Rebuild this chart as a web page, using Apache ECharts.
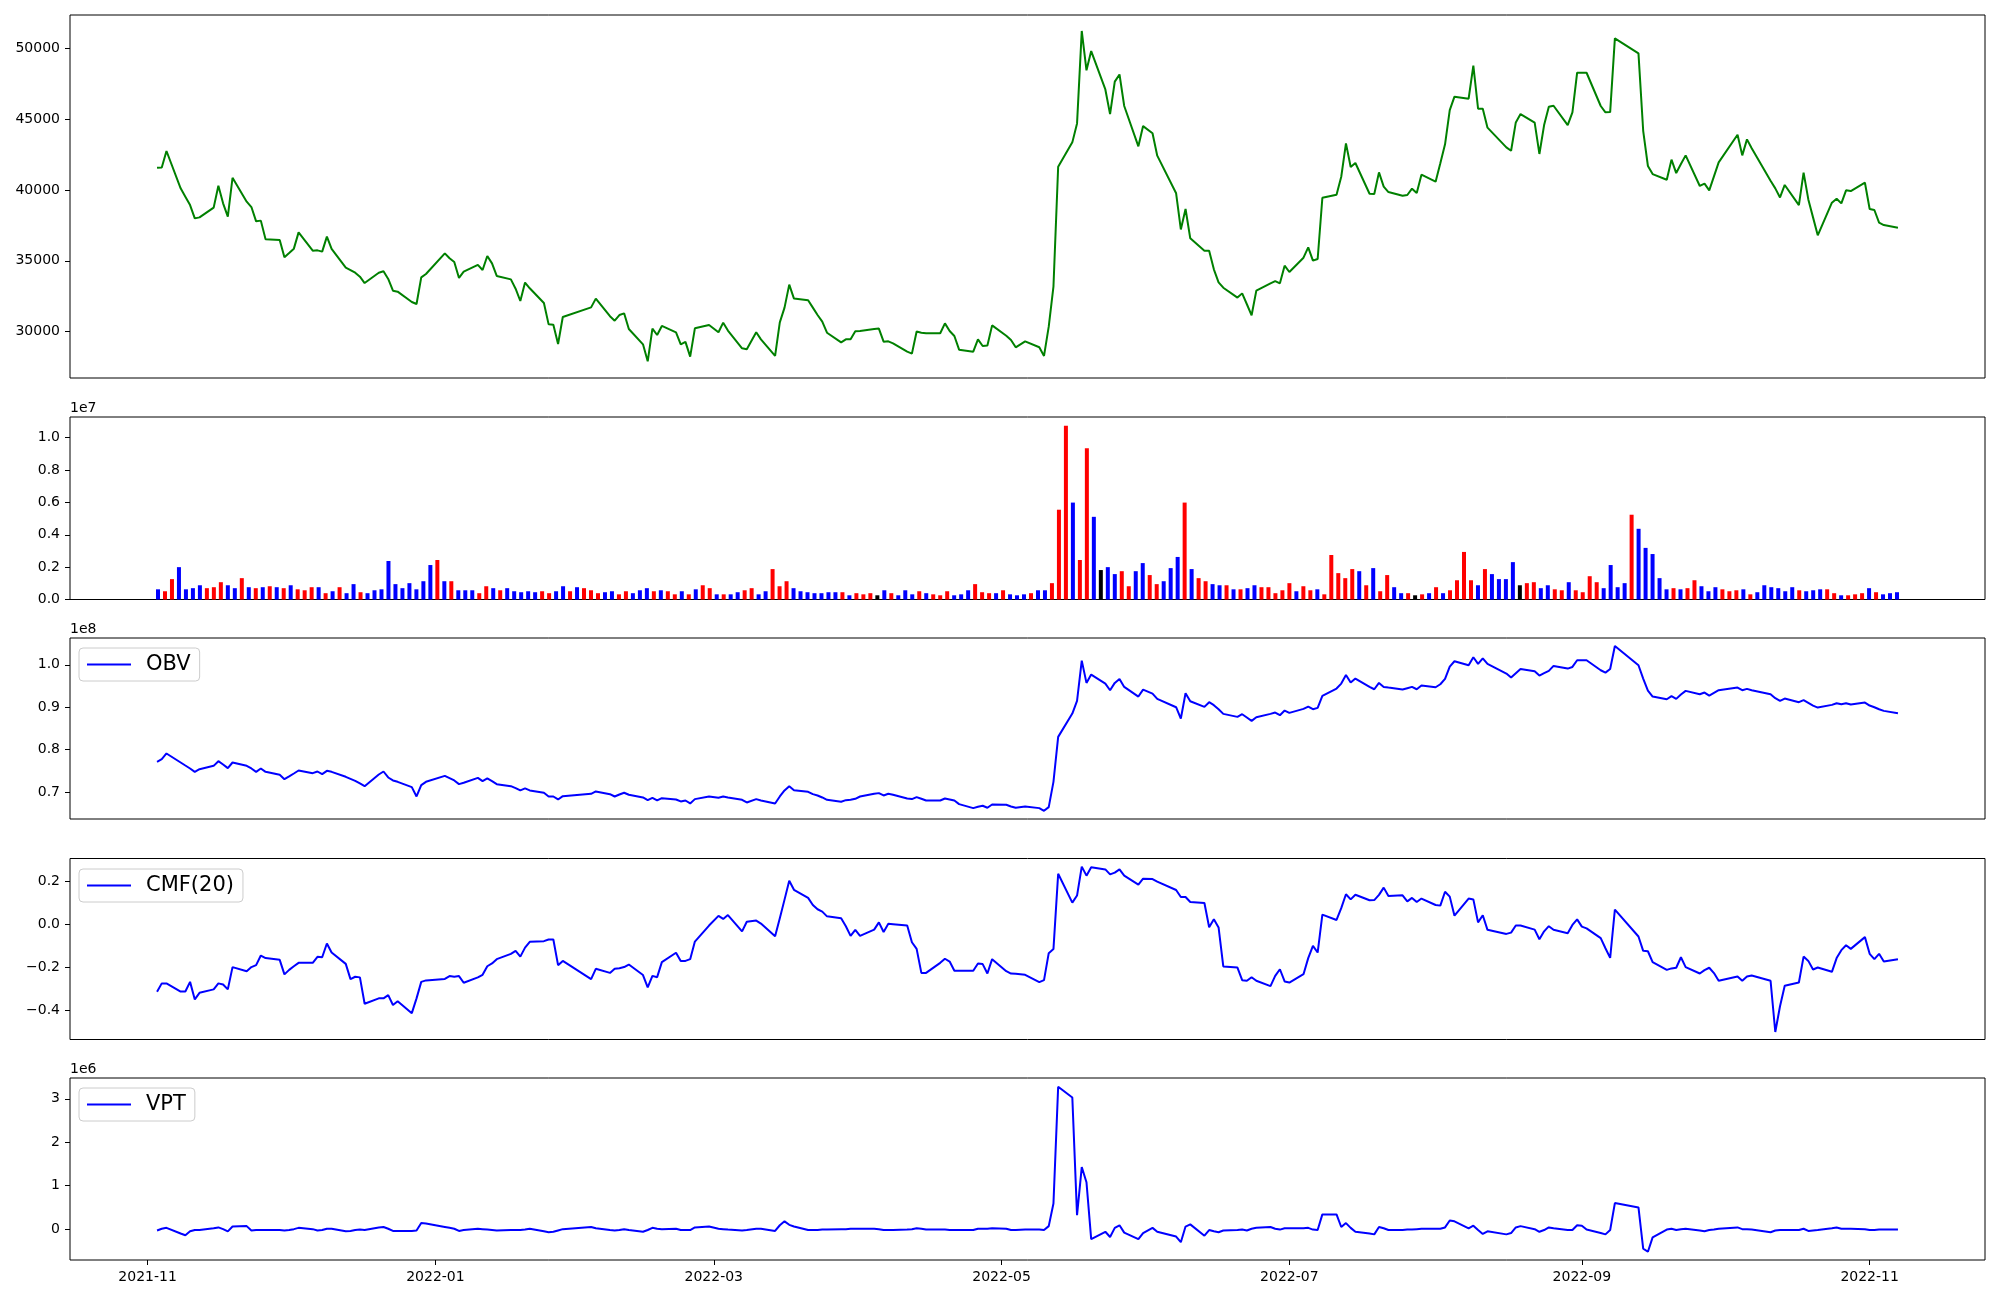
<!DOCTYPE html>
<html>
<head>
<meta charset="utf-8">
<script src="https://cdn.jsdelivr.net/npm/echarts@6/dist/echarts.min.js"></script>
<style>
  html, body { margin: 0; padding: 0; background: #fff; }
  #chart { width: 2000px; height: 1300px; }
</style>
</head>
<body>
<div id="chart"></div>
<script>
// market holidays (weekdays without trading) between the first and last day
const holidays = ['2021-12-31', '2022-01-31', '2022-02-01', '2022-02-02', '2022-03-01', '2022-03-09',
  '2022-05-05', '2022-06-01', '2022-06-06', '2022-08-15', '2022-09-09', '2022-09-12', '2022-10-03', '2022-10-10'];
const tickLabels = ['2021-11', '2022-01', '2022-03', '2022-05', '2022-07', '2022-09', '2022-11'];

// close price
const price = [
  41580, 41600, 42760, 40120, 39530, 38940, 38000, 38070, 38760, 40310, 39060, 38120, 40870, 39180, 38800, 37790, 37840, 36520, 36470, 35250,
  35550, 35860, 37010, 35720, 35740, 35650, 36710, 35840, 34520, 34350, 34160, 33880, 33430, 34160, 34260, 33720, 32890, 32820, 32090, 31950, 33830, 34070,
  35530, 35180, 34920, 33790, 34230, 34710, 34350, 35340, 34820, 33930, 33690, 33030, 32160, 33460, 33060, 32020, 30510, 30490, 29120, 31030,
  31710, 32330, 31090, 30770, 31170, 31290, 30180, 29100, 27900, 30210, 29760, 30400, 29950, 29100, 29270, 28230, 30230, 30470,
  29950, 30630, 30070, 28820, 28750, 29950, 29450, 28280, 30650, 31690, 33320, 32330, 32210, 31690, 31170, 30700, 29920, 29240, 29450, 29450, 30020,
  30040, 30180, 30210, 29290, 29310, 29170, 28580, 28440, 30000, 29920, 29880, 29880, 30580, 30040, 29690, 28720, 28580, 29450, 28980, 29010, 30440,
  29710, 29410, 28890, 29310, 28890, 28280, 30350, 33170, 41650, 43370, 44710, 51240, 48460, 49820, 47110, 45370, 47660, 48170, 45940, 43090, 44520,
  44010, 42430, 39770, 37220, 38660, 36590, 35720, 35720, 34400, 33480, 33100, 32400, 32700, 31930, 31150, 32890, 33410, 33570, 33410, 34660,
  34210, 35220, 35950, 35010, 35130, 39460, 39670, 40940, 43300, 41630, 41910, 39740, 39720, 41250, 40240, 39860, 39600, 39650, 40100, 39790, 41090,
  40590, 41890, 43230, 45650, 46600, 46460, 48790, 45750, 45750, 44410, 43020, 42780, 44780, 45370, 44760, 42550, 44590, 45890, 45960, 44590, 45490, 48290,
  48290, 48290, 45940, 45490, 45510, 50720, 49660, 44190, 41700, 41130, 40730, 42150, 41200, 41840, 42450, 40290, 40450, 39980, 40970, 41960,
  43910, 42450, 43580, 42950, 40660, 40120, 39480, 40360, 38940, 41230, 39340, 38070, 36800, 39110, 39390, 39060, 39980, 39930, 40520,
  38660, 38590, 37700, 37530, 37340
];

// volume, millions
const volume = [
  0.63, 0.51, 1.26, 2.00, 0.63, 0.70, 0.88, 0.70, 0.76, 1.07, 0.88, 0.70, 1.32, 0.76, 0.70, 0.76, 0.82, 0.76, 0.70, 0.88,
  0.63, 0.57, 0.76, 0.76, 0.39, 0.51, 0.76, 0.39, 0.95, 0.45, 0.39, 0.57, 0.63, 2.38, 0.95, 0.70, 1.01, 0.63, 1.13, 2.13, 2.44, 1.13,
  1.13, 0.57, 0.57, 0.57, 0.39, 0.82, 0.70, 0.57, 0.70, 0.51, 0.45, 0.51, 0.45, 0.51, 0.39, 0.51, 0.82, 0.51, 0.76, 0.70,
  0.57, 0.39, 0.45, 0.51, 0.32, 0.51, 0.39, 0.57, 0.70, 0.51, 0.57, 0.51, 0.32, 0.51, 0.32, 0.63, 0.88, 0.70,
  0.32, 0.32, 0.32, 0.45, 0.57, 0.70, 0.32, 0.51, 1.88, 0.82, 1.13, 0.70, 0.51, 0.45, 0.39, 0.39, 0.45, 0.45, 0.45, 0.26, 0.39,
  0.32, 0.39, 0.26, 0.57, 0.39, 0.26, 0.57, 0.32, 0.51, 0.39, 0.32, 0.26, 0.51, 0.26, 0.32, 0.57, 0.95, 0.45, 0.39, 0.39, 0.57,
  0.32, 0.26, 0.32, 0.39, 0.57, 0.57, 1.01, 5.55, 10.74, 5.99, 2.44, 9.35, 5.11, 1.82, 2.00, 1.57, 1.75, 0.82, 1.75, 2.25, 1.51,
  0.95, 1.13, 1.94, 2.63, 5.99, 1.88, 1.32, 1.13, 0.95, 0.88, 0.88, 0.63, 0.63, 0.70, 0.88, 0.76, 0.76, 0.39, 0.57, 1.01,
  0.51, 0.82, 0.57, 0.63, 0.32, 2.75, 1.63, 1.32, 1.88, 1.75, 0.88, 1.94, 0.51, 1.51, 0.76, 0.39, 0.39, 0.26, 0.32, 0.39, 0.76,
  0.39, 0.57, 1.19, 2.94, 1.19, 0.88, 1.88, 1.57, 1.26, 1.26, 2.31, 0.88, 1.01, 1.07, 0.70, 0.88, 0.63, 0.57, 1.07, 0.57, 0.45, 1.44,
  1.07, 0.70, 2.13, 0.76, 1.01, 5.24, 4.37, 3.19, 2.81, 1.32, 0.63, 0.70, 0.63, 0.70, 1.19, 0.82, 0.51, 0.76, 0.63, 0.51,
  0.57, 0.63, 0.32, 0.45, 0.88, 0.76, 0.70, 0.51, 0.76, 0.57, 0.51, 0.57, 0.63, 0.63, 0.39, 0.26, 0.26, 0.32, 0.39,
  0.70, 0.45, 0.32, 0.39, 0.45
];
// bar colour per day: r = up, b = down, k = unchanged
const volColor = ('brrbbbbrrrbbrbrbrbrb' + 'rrrbrbrbbrbbbbbbbbbbrb' + 'rbbbrrbrbbbbbrrbbrbr' + 'rrbbrrbbbrbrrbrbrr' +
  'brbbrrbbrrrbbbbbbbrbr' + 'rrkbrbbbrbrrrbbbrrrbr' + 'bbbrbbrrrbrrbkbbrrbbr' + 'rbbbrbrrbbrbrbbrrrrr' +
  'brrbrrrrrbrbrrbbrkrbr' + 'brrrrbrbbbbkrrbbrrbrrr' + 'rbbbbrbbbbbrbrrbbbrr' + 'rbrbbbbbbrbbbrrbrrr' + 'brbbb').split('');

// OBV, millions
const obv = [
  77.16, 77.78, 79.12, 77.00, 76.29, 75.59, 74.80, 75.43, 76.21, 77.31, 76.53, 75.67, 77.00, 76.21, 75.59, 74.80, 75.59, 74.80, 74.10, 73.08,
  73.71, 74.41, 75.12, 74.49, 74.88, 74.26, 75.04, 74.80, 73.63, 73.16, 72.69, 72.06, 71.43, 74.18, 74.88, 73.47, 72.77, 72.45, 71.20, 69.00, 71.67, 72.45,
  73.86, 73.32, 72.77, 71.90, 72.22, 73.39, 72.61, 73.24, 72.61, 71.90, 71.43, 70.96, 70.42, 70.89, 70.42, 69.87, 69.00, 69.00, 68.30, 69.08,
  69.63, 70.18, 69.55, 69.00, 69.47, 69.87, 69.40, 68.77, 68.14, 68.69, 68.06, 68.61, 68.30, 67.83, 68.06, 67.36, 68.38, 69.00,
  68.69, 69.00, 68.77, 68.22, 67.59, 68.38, 68.06, 67.36, 69.00, 70.42, 71.43, 70.49, 70.10, 69.55, 69.24, 68.77, 68.22, 67.75, 68.14, 68.22, 68.46,
  69.00, 69.63, 69.79, 69.24, 69.63, 69.40, 68.53, 68.38, 68.85, 68.46, 68.06, 68.06, 68.53, 68.30, 68.06, 67.20, 66.26, 66.58, 66.81, 66.34, 67.12,
  67.04, 66.65, 66.34, 66.65, 66.26, 65.63, 66.50, 72.45, 83.03, 88.52, 91.50, 100.98, 95.73, 97.69, 95.57, 94.01, 95.73, 96.67, 94.79, 92.52, 94.16,
  93.22, 91.97, 90.01, 87.34, 93.30, 91.42, 90.09, 91.19, 90.48, 89.54, 88.44, 87.74, 88.36, 87.58, 86.80, 87.66, 88.44, 88.76, 88.13, 89.23,
  88.68, 89.62, 90.17, 89.54, 89.85, 92.67, 94.40, 95.57, 97.61, 95.81, 96.75, 94.79, 94.24, 95.73, 94.79, 94.63, 94.16, 94.48, 94.79, 94.24, 95.11,
  94.71, 95.42, 96.67, 99.57, 100.83, 99.89, 101.77, 100.20, 101.53, 100.20, 97.93, 96.99, 98.01, 99.02, 98.47, 97.46, 98.01, 98.55, 99.73, 99.10, 99.49, 101.06,
  101.06, 101.06, 98.71, 98.16, 99.02, 104.43, 99.89, 96.75, 93.93, 92.52, 91.89, 92.60, 91.97, 92.99, 93.85, 93.07, 93.46, 92.75, 93.38, 94.01,
  94.63, 94.01, 94.32, 94.01, 93.07, 92.13, 91.50, 92.05, 91.19, 91.66, 91.03, 90.40, 89.93, 90.56, 90.95, 90.72, 90.95, 90.64, 91.11,
  90.40, 90.01, 89.54, 89.15, 88.60
];

// Chaikin money flow, 20 days
const cmf = [
  -0.315, -0.276, -0.276, -0.314, -0.314, -0.269, -0.351, -0.320, -0.304, -0.276, -0.281, -0.304, -0.200, -0.219, -0.200, -0.191, -0.146, -0.158, -0.166, -0.234,
  -0.213, -0.196, -0.180, -0.180, -0.152, -0.154, -0.090, -0.132, -0.185, -0.256, -0.245, -0.248, -0.371, -0.346, -0.346, -0.331, -0.377, -0.359, -0.415, -0.346, -0.269, -0.262,
  -0.255, -0.242, -0.245, -0.242, -0.273, -0.248, -0.236, -0.196, -0.183, -0.163, -0.138, -0.124, -0.151, -0.109, -0.082, -0.079, -0.071, -0.071, -0.191, -0.171,
  -0.256, -0.208, -0.227, -0.208, -0.205, -0.200, -0.188, -0.237, -0.295, -0.241, -0.247, -0.177, -0.133, -0.172, -0.171, -0.163, -0.081, -0.006,
  0.039, 0.025, 0.043, -0.033, 0.012, 0.017, 0.003, -0.056, 0.028, 0.115, 0.203, 0.161, 0.123, 0.090, 0.070, 0.059, 0.037, 0.028, -0.009, -0.054, -0.026,
  -0.054, -0.025, 0.009, -0.036, 0.002, 0.000, -0.006, -0.084, -0.115, -0.227, -0.227, -0.180, -0.161, -0.174, -0.217, -0.217, -0.217, -0.183, -0.186, -0.230, -0.163,
  -0.219, -0.230, -0.231, -0.236, -0.270, -0.261, -0.135, -0.116, 0.236, 0.101, 0.134, 0.269, 0.227, 0.266, 0.256, 0.233, 0.241, 0.256, 0.227, 0.185, 0.213,
  0.211, 0.199, 0.160, 0.127, 0.127, 0.104, 0.099, -0.014, 0.023, -0.015, -0.197, -0.202, -0.261, -0.264, -0.247, -0.264, -0.289, -0.241, -0.210, -0.267,
  -0.272, -0.233, -0.158, -0.101, -0.132, 0.045, 0.020, 0.075, 0.140, 0.116, 0.138, 0.112, 0.113, 0.137, 0.171, 0.132, 0.135, 0.107, 0.123, 0.104, 0.120,
  0.090, 0.087, 0.152, 0.129, 0.040, 0.120, 0.116, 0.009, 0.042, -0.026, -0.045, -0.039, -0.006, -0.006, -0.025, -0.070, -0.033, -0.009, -0.026, -0.042, -0.003, 0.023,
  -0.011, -0.019, -0.065, -0.112, -0.157, 0.068, -0.057, -0.124, -0.126, -0.177, -0.213, -0.206, -0.203, -0.154, -0.200, -0.230, -0.214, -0.203, -0.228, -0.264,
  -0.244, -0.264, -0.244, -0.239, -0.264, -0.503, -0.383, -0.287, -0.272, -0.151, -0.171, -0.211, -0.202, -0.222, -0.158, -0.121, -0.098, -0.115, -0.060,
  -0.138, -0.163, -0.138, -0.174, -0.163
];

// volume price trend, millions
const vpt = [
  -0.03, 0.01, 0.03, -0.10, -0.14, -0.05, -0.02, -0.02, 0.02, 0.04, 0.00, -0.05, 0.06, 0.07, -0.03, -0.02, -0.02, -0.02, -0.02, -0.03,
  -0.02, 0.00, 0.03, 0.00, -0.03, -0.02, 0.01, 0.01, -0.05, -0.04, -0.02, -0.01, -0.02, 0.04, 0.05, 0.01, -0.04, -0.04, -0.04, -0.03, 0.14, 0.13,
  0.05, 0.03, 0.01, -0.04, -0.02, 0.01, 0.00, -0.01, -0.02, -0.03, -0.02, -0.02, -0.02, -0.01, 0.01, -0.05, -0.07, -0.06, -0.03, 0.00,
  0.05, 0.02, -0.02, -0.03, -0.02, 0.00, -0.02, -0.06, -0.02, 0.03, 0.01, 0.00, 0.01, -0.02, -0.02, -0.02, 0.04, 0.06,
  0.01, 0.00, -0.01, -0.03, -0.02, 0.01, 0.01, -0.04, 0.09, 0.18, 0.10, 0.06, -0.02, -0.02, -0.02, -0.01, -0.01, 0.00, 0.00, 0.01, 0.01,
  0.01, 0.01, 0.00, -0.02, -0.02, -0.02, -0.01, 0.00, 0.02, 0.01, -0.01, -0.01, -0.01, -0.02, -0.02, -0.02, -0.02, 0.01, 0.01, 0.01, 0.02,
  0.01, -0.02, -0.02, -0.01, -0.01, -0.02, 0.07, 0.59, 3.28, 3.03, 0.32, 1.43, 1.08, -0.23, -0.06, -0.18, 0.03, 0.09, -0.08, -0.23, -0.09,
  0.03, -0.06, -0.17, -0.30, 0.06, 0.11, -0.15, -0.02, -0.05, -0.07, -0.03, -0.02, -0.01, -0.03, 0.01, 0.03, 0.05, 0.01, -0.01, 0.02,
  0.02, 0.02, 0.03, -0.01, -0.02, 0.34, 0.34, 0.05, 0.14, 0.03, -0.06, -0.10, -0.12, 0.05, 0.02, -0.02, -0.02, -0.01, -0.01, 0.00, 0.01,
  0.01, 0.01, 0.04, 0.20, 0.18, 0.02, 0.08, -0.02, -0.11, -0.05, -0.12, -0.09, 0.04, 0.07, 0.00, -0.06, -0.02, 0.04, 0.02, -0.02, -0.02, 0.09,
  0.08, -0.01, -0.09, -0.12, -0.02, 0.60, 0.50, -0.45, -0.52, -0.19, -0.01, 0.01, -0.02, 0.00, 0.01, -0.03, -0.05, -0.02, -0.01, 0.01,
  0.04, 0.00, 0.00, -0.01, -0.07, -0.03, -0.02, -0.02, -0.02, 0.01, -0.04, -0.03, -0.02, 0.02, 0.04, 0.01, 0.01, 0.01, 0.00,
  -0.02, -0.02, -0.01, -0.01, -0.01
];

// trading days as day numbers counted from 2021-11-01
const DAY = 86400000;
const origin = Date.UTC(2021, 10, 1);
const tradeDays = [];
for (let t = Date.UTC(2021, 10, 3); t <= Date.UTC(2022, 10, 7); t += DAY) {
  const dt = new Date(t);
  const wd = dt.getUTCDay();
  if (wd === 0 || wd === 6) continue;
  if (holidays.indexOf(dt.toISOString().slice(0, 10)) >= 0) continue;
  tradeDays.push((t - origin) / DAY);
}
const tickDays = tickLabels.map(s => (Date.UTC(+s.slice(0, 4), +s.slice(5, 7) - 1, 1) - origin) / DAY);

const FONT = 'DejaVu Sans';
const colorOf = {r: '#ff0000', b: '#0000ff', k: '#000000'};

const panels = [
  {top: 15, height: 363},
  {top: 417, height: 182.5},
  {top: 638, height: 181},
  {top: 858.5, height: 181},
  {top: 1078, height: 182}
];

const grid = panels.map(p => ({
  left: 70, width: 1915, top: p.top, height: p.height,
  show: true, borderColor: '#000', borderWidth: 1, backgroundColor: 'transparent'
}));

const xAxis = panels.map((p, k) => {
  const isBars = k === 1, isLast = k === 4;
  return {
    type: 'value', gridIndex: k, position: 'bottom',
    min: isBars ? -12.6 : -16.45,
    max: isBars ? 261.6 : 389.45,
    axisLine: {show: false, onZero: false},
    splitLine: {show: false},
    axisTick: {show: isLast, length: 5, lineStyle: {color: '#000'}, customValues: tickDays},
    axisLabel: {
      show: isLast, customValues: tickDays, margin: 10,
      color: '#000', fontSize: 14, fontFamily: FONT,
      formatter: v => tickLabels[tickDays.indexOf(v)] || ''
    }
  };
});

function yAx(k, min, max, ticks, fmt, name) {
  return {
    type: 'value', gridIndex: k, position: 'left', min: min, max: max,
    name: name || '', nameLocation: 'end', nameGap: 9,
    nameTextStyle: {align: 'left', verticalAlign: 'middle', color: '#000', fontSize: 14, fontFamily: FONT},
    axisLine: {show: false, onZero: false},
    splitLine: {show: false},
    axisTick: {show: true, length: 5, lineStyle: {color: '#000'}, customValues: ticks},
    axisLabel: {customValues: ticks, formatter: fmt, margin: 10, color: '#000', fontSize: 14, fontFamily: FONT}
  };
}
const minus = v => (v < 0 ? '\u2212' : '') + Math.abs(v).toFixed(1);

const yAxis = [
  yAx(0, 26720, 52370, [30000, 35000, 40000, 45000, 50000], v => String(v)),
  yAx(1, 0, 11.28, [0, 2, 4, 6, 8, 10], v => (v / 10).toFixed(1), '1e7'),
  yAx(2, 63.7, 106.3, [70, 80, 90, 100], v => (v / 100).toFixed(1), '1e8'),
  yAx(3, -0.538, 0.307, [-0.4, -0.2, 0, 0.2], minus),
  yAx(4, -0.71, 3.48, [0, 1, 2, 3], v => String(v), '1e6')
];

function lineSeries(name, k, values, color) {
  return {
    name: name, type: 'line', xAxisIndex: k, yAxisIndex: k,
    data: values.map((v, i) => [tradeDays[i], v]),
    symbol: 'none', lineStyle: {color: color, width: 2}, itemStyle: {color: color},
    silent: true
  };
}

const legend = [['OBV', 648], ['CMF(20)', 869], ['VPT', 1088]].map(([name, top]) => ({
  data: [{name: name, icon: 'rect'}], left: 79, top: top, selectedMode: false,
  itemWidth: 44, itemHeight: 2, padding: [6, 9, 6, 8],
  backgroundColor: 'rgba(255,255,255,0.8)', borderColor: '#cccccc', borderWidth: 1, borderRadius: 4,
  textStyle: {color: '#000', fontSize: 21, fontFamily: FONT, padding: [0, 0, 0, 10]}
}));

const chart = echarts.init(document.getElementById('chart'), null, {renderer: 'canvas'});
chart.setOption({
  animation: false,
  backgroundColor: '#ffffff',
  textStyle: {fontFamily: FONT},
  grid: grid,
  xAxis: xAxis,
  yAxis: yAxis,
  legend: legend,
  series: [
    lineSeries('Close', 0, price, '#008000'),
    {
      name: 'Volume', type: 'bar', xAxisIndex: 1, yAxisIndex: 1, barWidth: 4, silent: true,
      data: volume.map((v, i) => ({value: [i, v], itemStyle: {color: colorOf[volColor[i]]}}))
    },
    lineSeries('OBV', 2, obv, '#0000ff'),
    lineSeries('CMF(20)', 3, cmf, '#0000ff'),
    lineSeries('VPT', 4, vpt, '#0000ff')
  ]
});
</script>
</body>
</html>
